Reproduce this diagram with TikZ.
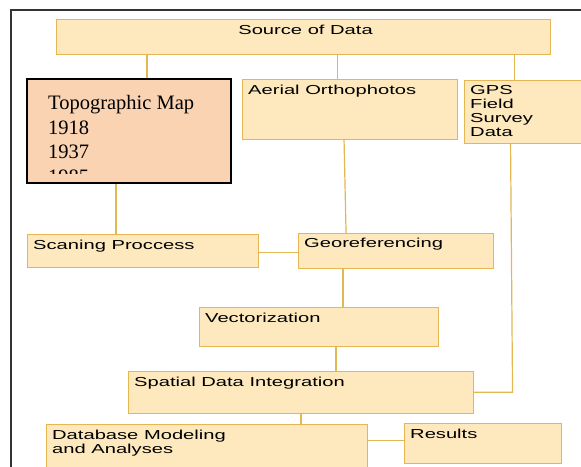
\documentclass[tikz,border=0pt]{standalone}
\usepackage{fontspec}
\newfontfamily\boxfont{Liberation Sans}[FakeStretch=1.55]
\newfontfamily\mapfont{Liberation Serif}

\definecolor{boxfill}{RGB}{253,233,189}
\definecolor{boxline}{RGB}{230,182,82}
\definecolor{linkcol}{RGB}{228,184,80}
\definecolor{peach}{RGB}{250,212,178}

\begin{document}
\begin{tikzpicture}[x=1pt, y=-1pt,
  box/.style={draw=boxline, line width=1.1pt, fill=boxfill, anchor=north west, inner sep=0pt},
  txt/.style={anchor=north west, inner sep=0pt, xshift=6pt, yshift=-6pt, align=left,
    font=\boxfont\fontsize{13}{14.2}\selectfont},
  link/.style={draw=linkcol, line width=1.2pt}]

% ===== Page and outer frame =====
\clip (0,0) rectangle (581,466);
\fill[white] (0,0) rectangle (581,466);
\draw[black!80, line width=1.5pt] (11,10) rectangle (600,490);

% ===== Source boxes =====
\node[box, minimum width=494pt, minimum height=35pt,
  label={[txt, anchor=north, xshift=-4pt]north:Source of Data}] (src) at (56,19) {};
\node[box, draw=black, fill=peach, line width=2pt, minimum width=204pt, minimum height=104pt] (topo) at (26,78) {};
\node[box, minimum width=215pt, minimum height=60pt,
  label={[txt]north west:Aerial Orthophotos}] (aer) at (242,79) {};
\node[box, minimum width=120pt, minimum height=63pt,
  label={[txt, yshift=1pt]north west:GPS\\Field\\Survey\\Data}] (gps) at (464,80) {};

% text of the map box, cut off at the bottom
\begin{scope}
  \clip (topo.north west) rectangle ([yshift=11pt]topo.south east);
  \node[anchor=north west, inner sep=0pt, align=left,
    font=\mapfont\fontsize{20.5}{24.5}\selectfont] (topotext) at (48,95.3)
    {Topographic Map\\1918\\1937\\1985};
\end{scope}

% ===== Processing boxes =====
\node[box, minimum width=231pt, minimum height=33pt,
  label={[txt]north west:Scaning Proccess}] (scan) at (27,234) {};
\node[box, minimum width=195pt, minimum height=34.5pt,
  label={[txt, yshift=1pt]north west:Georeferencing}] (geo) at (298,233) {};
\node[box, minimum width=239pt, minimum height=38.5pt,
  label={[txt]north west:Vectorization}] (vec) at (199,307) {};
\node[box, minimum width=345pt, minimum height=41.5pt,
  label={[txt]north west:Spatial Data Integration}] (spa) at (128,371) {};
\node[box, minimum width=320.5pt, minimum height=50pt,
  label={[txt]north west:Database Modeling\\and Analyses}] (db) at (46,424) {};
\node[box, minimum width=157pt, minimum height=40pt,
  label={[txt]north west:Results}] (res) at (404,423) {};

% ===== Connections =====
\draw[link] ([xshift=18pt]topo.north) -- ([xshift=18pt]topo.north |- src.south);
\draw[link] ([xshift=-12.5pt]aer.north) -- ([xshift=-12.5pt]aer.north |- src.south);
\draw[link] ([xshift=-10pt]gps.north) -- ([xshift=-10pt]gps.north |- src.south);
\draw[link] ([xshift=-13pt]topo.south) -- ([xshift=-13pt]topo.south |- scan.north);
\draw[link] ([xshift=-6pt]aer.south) -- ([xshift=-50pt]geo.north);
\draw[link] ([yshift=-1.5pt]scan.east) -- ([yshift=-1.5pt]scan.east -| geo.west);
\draw[link] ([xshift=24pt]vec.north) -- ([xshift=24pt]vec.north |- geo.south);
\draw[link] ([xshift=17pt]vec.south) -- ([xshift=17pt]vec.south |- spa.north);
\draw[link] ([xshift=-14pt]gps.south) -- ([xshift=-12pt]gps.south |- spa.east) -- (spa.east);
\draw[link] (spa.south) -- (spa.south |- db.north);
\draw[link] ([yshift=3pt]res.west) -- ([yshift=3pt]res.west -| db.east);

\end{tikzpicture}
\end{document}
